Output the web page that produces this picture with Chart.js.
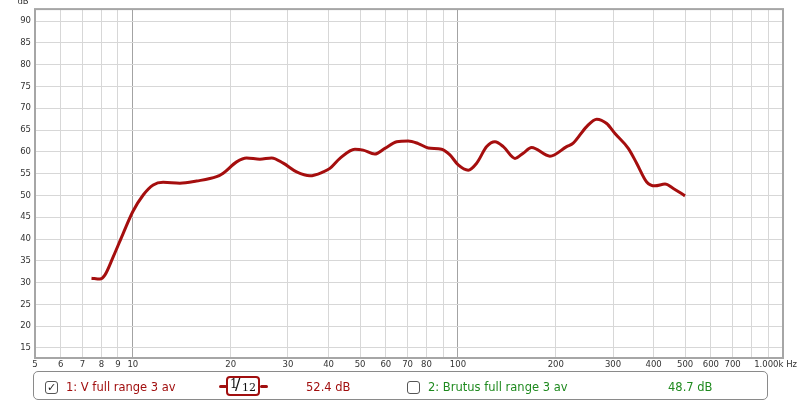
<!DOCTYPE html>
<html>
<head>
<meta charset="utf-8">
<script src="https://cdn.jsdelivr.net/npm/chart.js@4"></script>
<style>
  html, body { margin: 0; padding: 0; background: #fff; }
  #wrap { position: relative; width: 800px; height: 402px; overflow: hidden; }
  #c { position: absolute; left: 0; top: 0; }
  .legend { position: absolute; left: 33px; top: 371px; width: 733px; height: 27px;
            border: 1px solid #8a8a8a; border-radius: 5px; background: #fff;
            font-family: "DejaVu Sans", sans-serif; font-size: 11.5px; }
  .item { position: absolute; top: 0; line-height: 30px; white-space: nowrap; }
  .cb { position: absolute; top: 9px; width: 11px; height: 11px; border: 1px solid #555;
        border-radius: 3px; background: #fff; font-size: 11px; line-height: 11px; text-align: center; color: #222; }
  .frac { position: absolute; left: 192px; top: 4px; width: 30px; height: 16px; border: 2px solid #a10f0f;
          border-radius: 4px; background: #fff; font-family: "DejaVu Serif", serif; color: #111; overflow: hidden; }
  .bar { position: absolute; top: 13px; height: 3px; width: 8px; background: #a10f0f; border-radius: 2px; }
</style>
</head>
<body>
<div id="wrap">
  <canvas id="c" width="800" height="402"></canvas>
  <div class="legend" id="legend"></div>
</div>
<script>
// ---- data ----
const freqHz = [7.46, 7.92, 8.20, 8.70, 9.34, 10.0, 10.76, 11.55, 12.39, 13.95, 15.70, 18.09, 18.96, 20.85,
  22.38, 24.59, 26.73, 29.01, 31.90, 35.04, 38.52, 40.38, 43.35, 48.2, 51.1, 55.5, 59.6, 64.8, 70.3,
  75.5, 81.0, 89.1, 94.5, 100.2, 107.6, 114.2, 122.6, 130.0, 137.9, 149.8, 158.8, 168.5, 191.9, 216.0,
  226.3, 248.9, 267.3, 286.8, 304.2, 334.2, 354.6, 380.7, 403.8, 433.6, 459.8, 499.5];
const levelDb = [31.0, 30.8, 31.7, 35.9, 41.3, 46.3, 50.1, 52.4, 53.0, 52.8, 53.3, 54.3, 55.1, 57.7,
  58.6, 58.3, 58.6, 57.4, 55.4, 54.5, 55.4, 56.2, 58.5, 60.6, 60.4, 59.5, 60.8, 62.3, 62.5,
  61.9, 60.9, 60.6, 59.3, 57.0, 55.8, 57.4, 61.2, 62.3, 61.2, 58.5, 59.7, 61.0, 59.0, 61.2,
  62.0, 65.8, 67.5, 66.5, 64.2, 60.8, 57.4, 53.1, 52.2, 52.6, 51.6, 49.9];
const xTickValues = [5, 6, 7, 8, 9, 10, 20, 30, 40, 50, 60, 70, 80, 90, 100, 200, 300, 400, 500, 600, 700, 800, 900, 1000];
const xTickLabels = {5:"5",6:"6",7:"7",8:"8",9:"9",10:"10",20:"20",30:"30",40:"40",50:"50",60:"60",70:"70",80:"80",
  100:"100",200:"200",300:"300",400:"400",500:"500",600:"600",700:"700",1000:"1.000k Hz"};
const yTickValues = [15, 20, 25, 30, 35, 40, 45, 50, 55, 60, 65, 70, 75, 80, 85, 90];
const legendItems = [
  { name: "1: V full range 3 av", value: "52.4 dB", color: "#a10f0f", checked: true },
  { name: "2: Brutus full range 3 av", value: "48.7 dB", color: "#1f8a1f", checked: false }
];

const FONT = '"DejaVu Sans", sans-serif';

const framePlugin = {
  id: 'frame',
  afterDraw(chart) {
    const { ctx, chartArea: a, scales } = chart;
    ctx.save();
    ctx.strokeStyle = '#a6a6a6';
    ctx.lineWidth = 2;
    ctx.strokeRect(a.left, a.top, a.right - a.left, a.bottom - a.top);
    ctx.fillStyle = '#333';
    ctx.font = '8.5px ' + FONT;
    ctx.textBaseline = 'middle';
    for (const v of xTickValues) {
      const lab = xTickLabels[v];
      if (!lab) continue;
      const px = scales.x.getPixelForValue(v);
      if (v === 1000) { ctx.textAlign = 'right'; ctx.fillText(lab, px + 14, a.bottom + 7); }
      else { ctx.textAlign = 'center'; ctx.fillText(lab, px, a.bottom + 7); }
    }
    ctx.textAlign = 'center';
    ctx.textBaseline = 'bottom';
    ctx.fillText('dB', 23, 6);
    ctx.restore();
  }
};

new Chart(document.getElementById('c'), {
  type: 'line',
  data: {
    datasets: [{
      data: freqHz.map((f, i) => ({ x: f, y: levelDb[i] })),
      borderColor: '#a50e0e',
      borderWidth: 3,
      pointRadius: 0,
      cubicInterpolationMode: 'monotone',
      fill: false
    }]
  },
  options: {
    responsive: false,
    animation: false,
    events: [],
    layout: { padding: { left: 0, right: 17, top: 9, bottom: 0 } },
    plugins: { legend: { display: false }, tooltip: { enabled: false } },
    scales: {
      x: {
        type: 'logarithmic',
        min: 5, max: 1000,
        afterBuildTicks(s) { s.ticks = xTickValues.map(v => ({ value: v })); },
        afterFit(s) { s.height = 44; },
        ticks: { display: false },
        grid: {
          color: c => (c.tick && (c.tick.value === 10 || c.tick.value === 100)) ? '#a3a3a3' : '#d7d7d7',
          lineWidth: 1, drawTicks: false
        },
        border: { display: false }
      },
      y: {
        type: 'linear',
        min: 12.7, max: 92.75,
        afterBuildTicks(s) { s.ticks = yTickValues.map(v => ({ value: v })); },
        afterFit(s) { s.width = 35; },
        ticks: { color: '#333', font: { family: FONT, size: 8.5 }, padding: 4 },
        grid: { color: '#d7d7d7', lineWidth: 1, drawTicks: false },
        border: { display: false }
      }
    }
  },
  plugins: [framePlugin]
});

// legend row below the chart
const lg = document.getElementById('legend');
const pos = [{ cb: 11, name: 32, val: 272 }, { cb: 373, name: 394, val: 634 }];
legendItems.forEach((it, i) => {
  const p = pos[i];
  const cb = document.createElement('div');
  cb.className = 'cb'; cb.style.left = p.cb + 'px';
  cb.textContent = it.checked ? '\u2713' : '';
  lg.appendChild(cb);
  const n = document.createElement('div');
  n.className = 'item'; n.style.left = p.name + 'px'; n.style.color = it.color; n.textContent = it.name;
  lg.appendChild(n);
  const v = document.createElement('div');
  v.className = 'item'; v.style.left = p.val + 'px'; v.style.color = it.color; v.textContent = it.value;
  lg.appendChild(v);
});
const b1 = document.createElement('div'); b1.className = 'bar'; b1.style.left = '185px'; lg.appendChild(b1);
const b2 = document.createElement('div'); b2.className = 'bar'; b2.style.left = '226px'; lg.appendChild(b2);
const fr = document.createElement('div'); fr.className = 'frac';
fr.innerHTML = '<span style="position:absolute;left:2px;top:-1px;font-size:12px;line-height:14px">1</span>' +
  '<span style="position:absolute;left:7px;top:-2px;font-size:16px;line-height:18px;font-family:\'DejaVu Sans\',sans-serif">/</span>' +
  '<span style="position:absolute;left:14px;top:3px;font-size:11px;line-height:14px">12</span>';
lg.appendChild(fr);
</script>
</body>
</html>
